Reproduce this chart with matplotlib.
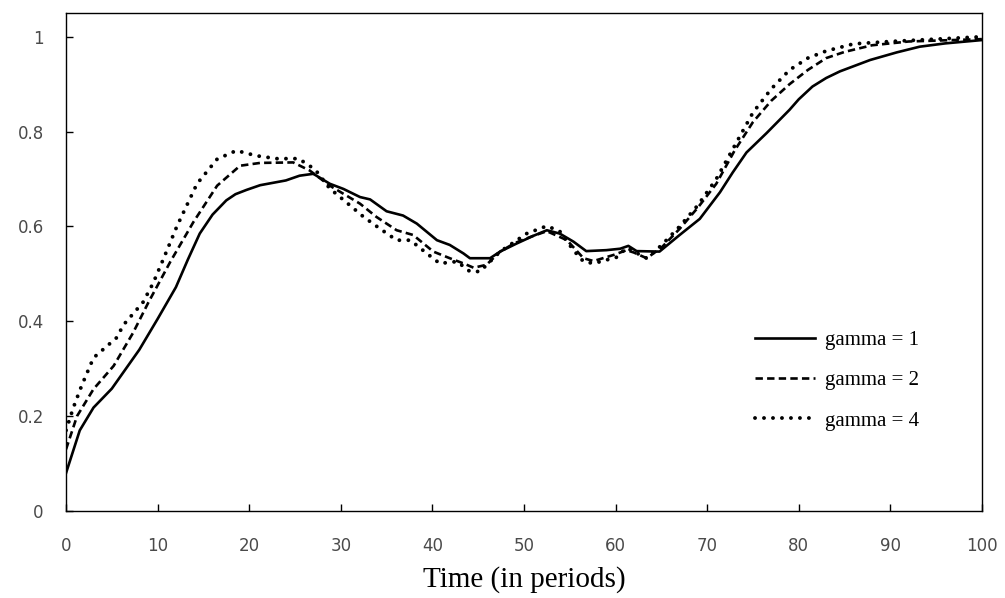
import numpy as np
import matplotlib
matplotlib.use("Agg")
import matplotlib.pyplot as plt
from matplotlib.ticker import FormatStrFormatter

# values
t_g1 = [0, 1.5, 3, 5, 8, 10, 12, 13.3, 14.6, 16, 17.5, 18.5, 19.7, 21.2, 24,
        25.5, 27, 28.8, 30.3, 32.1, 33.2, 35, 36.8, 38.3, 40.5, 41.9, 43.4,
        44.1, 46.3, 47.4, 49.2, 51, 52.5, 53.9, 55.4, 56.8, 59, 60.5, 61.4,
        62.3, 64.8, 67, 69.2, 71.4, 72.8, 74.3, 76.5, 79, 80, 81.5, 83, 84.5,
        87.8, 90.7, 93.2, 96, 100]
y_g1 = [0.08, 0.17, 0.218, 0.258, 0.34, 0.405, 0.472, 0.53, 0.585, 0.625,
        0.655, 0.668, 0.677, 0.687, 0.697, 0.707, 0.711, 0.69, 0.679, 0.662,
        0.657, 0.632, 0.623, 0.606, 0.571, 0.561, 0.543, 0.533, 0.533, 0.547,
        0.564, 0.58, 0.592, 0.585, 0.568, 0.548, 0.55, 0.553, 0.559, 0.548,
        0.547, 0.582, 0.616, 0.672, 0.714, 0.756, 0.797, 0.846, 0.868, 0.895,
        0.913, 0.927, 0.951, 0.967, 0.979, 0.986, 0.993]

t_g2 = [0, 1.2, 3, 5.2, 7.3, 9, 11.4, 13.9, 16.5, 19, 21.2, 24.8, 26.6, 28.8,
        32.1, 33.9, 36.1, 37.9, 40.1, 41.9, 43.4, 44.5, 45.9, 47.4, 49, 51,
        52.5, 54.7, 56.5, 57.6, 59.8, 61.2, 62, 63.4, 65, 67, 69, 71, 73, 75,
        77, 79, 81, 83, 85, 88, 92, 100]
y_g2 = [0.13, 0.2, 0.257, 0.306, 0.375, 0.44, 0.526, 0.609, 0.686, 0.728,
        0.734, 0.735, 0.718, 0.686, 0.648, 0.62, 0.592, 0.582, 0.547, 0.533,
        0.522, 0.513, 0.519, 0.547, 0.565, 0.58, 0.59, 0.571, 0.533, 0.527,
        0.54, 0.55, 0.545, 0.533, 0.555, 0.595, 0.64, 0.69, 0.76, 0.82, 0.865,
        0.9, 0.93, 0.955, 0.968, 0.982, 0.99, 0.995]

t_g4 = [0, 0.8, 1.7, 3, 5.5, 6.3, 8.4, 9.5, 10.6, 12.1, 14.3, 16.5, 18.6,
        20.8, 23, 25.4, 27.2, 28.8, 30.6, 32.5, 34.3, 36.1, 37.6, 39.4, 40.8,
        42.7, 44.1, 45.2, 47.4, 50.3, 52.5, 53.9, 55.4, 56.5, 57.6, 60.1, 61.2,
        63.4, 65, 67, 69, 71, 73, 75, 77, 79, 81, 83, 86, 90, 95, 100]
y_g4 = [0.17, 0.218, 0.264, 0.323, 0.365, 0.393, 0.44, 0.48, 0.53, 0.6, 0.69,
        0.742, 0.76, 0.749, 0.743, 0.743, 0.72, 0.68, 0.651, 0.62, 0.595, 0.571,
        0.571, 0.543, 0.522, 0.526, 0.505, 0.505, 0.547, 0.585, 0.601, 0.59,
        0.55, 0.526, 0.522, 0.535, 0.555, 0.533, 0.56, 0.6, 0.645, 0.7, 0.77,
        0.84, 0.89, 0.93, 0.955, 0.97, 0.985, 0.99, 0.995, 1.0]

labels = ["gamma = 1", "gamma = 2", "gamma = 4"]
x_ticks = [0, 10, 20, 30, 40, 50, 60, 70, 80, 90, 100]
y_ticks = [0, 0.2, 0.4, 0.6, 0.8, 1]

fig = plt.figure(figsize=(10.05, 5.98), dpi=100)
ax = fig.add_axes([0.0657, 0.1455, 0.9113, 0.8327])

ax.plot(t_g1, y_g1, color="black", lw=1.9, label=labels[0])
ax.plot(t_g2, y_g2, color="black", lw=1.9, linestyle=(0, (2.8, 1.6)),
        label=labels[1])
ax.plot(t_g4, y_g4, color="black", lw=2.8, linestyle=(0, (0.01, 2.3)),
        dash_capstyle="round", label=labels[2])

ax.set_xlim(0, 100)
ax.set_ylim(0, 1.05)
ax.set_xticks(x_ticks)
ax.set_yticks(y_ticks)
ax.yaxis.set_major_formatter(FormatStrFormatter("%g"))

for s in ax.spines.values():
    s.set_linewidth(1.0)
    s.set_color("black")
ax.tick_params(axis="both", direction="in", length=5, width=1.0,
               labelsize=12, labelcolor="#4a4a4a")
ax.tick_params(axis="y", pad=16)
ax.tick_params(axis="x", pad=19)

ax.set_xlabel("Time (in periods)", family="Liberation Serif", fontsize=21,
              labelpad=8)

leg = ax.legend(loc="center left", bbox_to_anchor=(0.752, 0.262),
                frameon=False, prop={"family": "Liberation Serif", "size": 15},
                handlelength=2.9, handletextpad=0.45, labelspacing=1.0,
                borderpad=0, borderaxespad=0)

fig.savefig("out.png", dpi=100)
